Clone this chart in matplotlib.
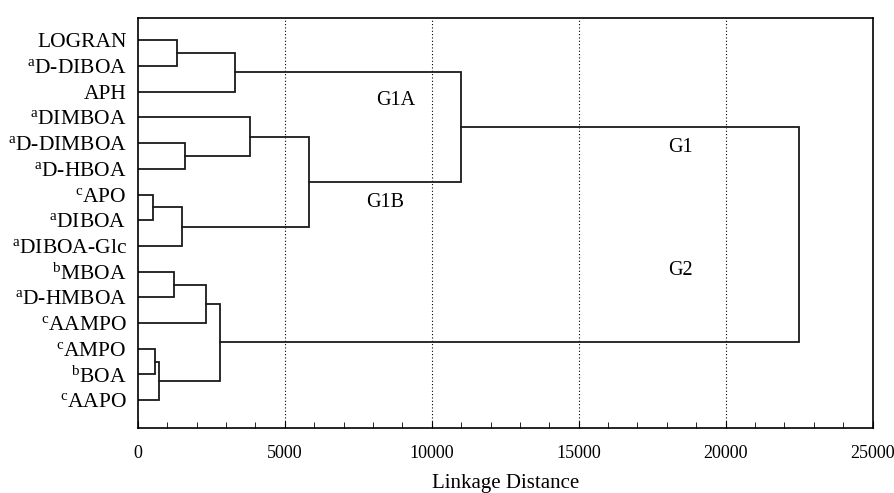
import matplotlib
matplotlib.use('Agg')
import matplotlib.pyplot as plt
import numpy as np
from matplotlib.ticker import MultipleLocator

plt.rcParams['font.family'] = ['Liberation Serif', 'DejaVu Serif']
plt.rcParams['mathtext.fontset'] = 'custom'
plt.rcParams['mathtext.rm'] = 'Liberation Serif'
plt.rcParams['mathtext.it'] = 'Liberation Serif'

# leaf labels, top to bottom
leaf_labels = ['LOGRAN', r'$^{\mathrm{a}}$D-DIBOA', 'APH',
               r'$^{\mathrm{a}}$DIMBOA', r'$^{\mathrm{a}}$D-DIMBOA', r'$^{\mathrm{a}}$D-HBOA',
               r'$^{\mathrm{c}}$APO', r'$^{\mathrm{a}}$DIBOA', r'$^{\mathrm{a}}$DIBOA-Glc',
               r'$^{\mathrm{b}}$MBOA', r'$^{\mathrm{a}}$D-HMBOA', r'$^{\mathrm{c}}$AAMPO',
               r'$^{\mathrm{c}}$AMPO', r'$^{\mathrm{b}}$BOA', r'$^{\mathrm{c}}$AAPO']

# linkage rows: child a, child b (leaves 0..14, clusters 15+), linkage distance
link_a = [0, 15, 4, 3, 6, 19, 18, 16, 9, 23, 12, 25, 24, 22]
link_b = [1, 2, 5, 17, 7, 8, 20, 21, 10, 11, 13, 14, 26, 27]
link_h = [1330, 3300, 1610, 3800, 510, 1500, 5830, 11000, 1230, 2330, 580, 720, 2810, 22500]

group_names = ['G1A', 'G1B', 'G1', 'G2']
group_x = [8770, 8400, 18450, 18450]
group_y = [3.35, 7.3, 5.15, 9.95]

n = len(leaf_labels)
ypos = list(np.arange(1, n + 1, dtype=float))
hpos = [0.0] * n

fig = plt.figure(figsize=(8.95, 4.93), dpi=100)
ax = fig.add_axes([0.154, 0.132, 0.821, 0.831])

for a, b, h in zip(link_a, link_b, link_h):
    ya, yb = ypos[a], ypos[b]
    ax.plot([hpos[a], h, h, hpos[b]], [ya, ya, yb, yb], color='#1a1a1a', lw=1.3,
            solid_joinstyle='miter')
    ypos.append((ya + yb) / 2)
    hpos.append(h)

for name, gx, gy in zip(group_names, group_x, group_y):
    ax.text(gx, gy, name, ha='center', va='center', fontsize=14.5)

ax.set_xlim(0, 25000)
ax.set_ylim(n + 1.08, 0.14)
ax.set_xticks([0, 5000, 10000, 15000, 20000, 25000])
ax.xaxis.set_minor_locator(MultipleLocator(1000))
ax.tick_params(axis='x', which='both', direction='in', top=False, labelsize=13, pad=12)
ax.tick_params(axis='x', which='major', length=5)
ax.tick_params(axis='x', which='minor', length=4)
ax.set_yticks(np.arange(1, n + 1))
ax.set_yticklabels(leaf_labels, fontsize=15.5)
ax.tick_params(axis='y', length=0, pad=8)
for gx in [5000, 10000, 15000, 20000]:
    ax.axvline(gx, color='black', lw=0.8, ls=(0, (1, 2)), zorder=0)
for s in ax.spines.values():
    s.set_linewidth(1.2)
ax.set_xlabel('Linkage Distance', fontsize=15, labelpad=9)

fig.savefig('out.png', dpi=100)
